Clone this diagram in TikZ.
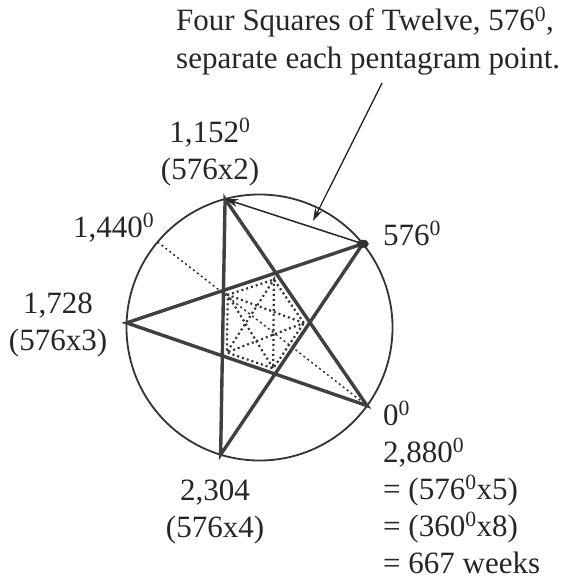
\documentclass[tikz,border=0pt]{standalone}
\usepackage{fontspec}
\setmainfont{Liberation Serif}
\usetikzlibrary{arrows.meta,calc}

\begin{document}
\begin{tikzpicture}[
            x=1pt, y=-1pt,
            font=\fontsize{31}{37}\selectfont,
            every node/.style={text=black!85, inner sep=0pt},
            lbl/.style={align=center, anchor=base},
            col/.style={align=left, anchor=base west},
            starline/.style={draw=black!75, line width=3.4pt, line cap=round},
            dotline/.style={draw=black!80, line width=2.2pt, dash pattern=on 2pt off 3pt},
            pointer/.style={draw=black!85, line width=1.3pt, -{Stealth[length=13pt,width=8pt]}}
        ]
        \useasboundingbox (0,0) rectangle (567,586);

        % The Circle
        \coordinate (c) at (259.5,327.5);
        \draw[black!80, line width=1.8pt] (c) circle[radius=133];
        \coordinate (p0) at ($(c)+(36:133)$); \coordinate (p576) at ($(c)+(-39:133)$); \coordinate (p1152) at ($(c)+(-105:133)$); \coordinate (p1728) at ($(c)+(-178:133)$); \coordinate (p2304) at ($(c)+(107:133)$); \coordinate (p1440) at ($(c)+(-140:133)$);

        % Inner points
        \coordinate (ia) at (intersection of p2304--p576 and p0--p1152); \coordinate (ib) at (intersection of p1152--p0 and p576--p1728); \coordinate (ic) at (intersection of p576--p1728 and p1152--p2304); \coordinate (id) at (intersection of p1152--p2304 and p1728--p0); \coordinate (ie) at (intersection of p1728--p0 and p2304--p576);
        \foreach \v in {a,b,c,d,e} {\coordinate (j\v) at ($(c)!0.88!(i\v)$);}

        % Dotted lines
        \draw[dotline, line width=1.5pt] (p1440) -- (p0);
        \draw[dotline] (ja) -- (jb) -- (jc) -- (jd) -- (je) -- cycle;
        \draw[dotline] (ja) -- (jc) -- (je) -- (jb) -- (jd) -- cycle;

        % The Pentagram
        \draw[starline] (p0) -- (p1152) -- (p2304) -- (p576) -- (p1728) -- cycle;
        \draw[pointer, line width=1.5pt] (p576) -- (p1152);
        \fill[black!80] (p576) ellipse[x radius=6, y radius=4];

        % Labels (base = last line)
        \node[col] (note) at (176,68) {Four Squares of Twelve, 576\textsuperscript{0},\\separate each pentagram point.};
        \coordinate (tip) at (313,221);
        \draw[pointer] ([xshift=14pt,yshift=-8pt]note.south) -- (tip);

        \node[lbl] (l1152) at (210,179) {1,152\textsuperscript{0}\\(576x2)};
        \node[col] (l1440) at (73,237) {1,440\textsuperscript{0}};
        \node[col] (l576) at (383,245) {576\textsuperscript{0}};
        \node[lbl] (l1728) at (58,350) {1,728\\(576x3)};
        \node[lbl] (l2304) at (215,537) {2,304\\(576x4)};
        \node[col] (l0) at (383,573) {0\textsuperscript{0}\\2,880\textsuperscript{0}\\= (576\textsuperscript{0}x5)\\= (360\textsuperscript{0}x8)\\= 667 weeks};

    \end{tikzpicture}
\end{document}
